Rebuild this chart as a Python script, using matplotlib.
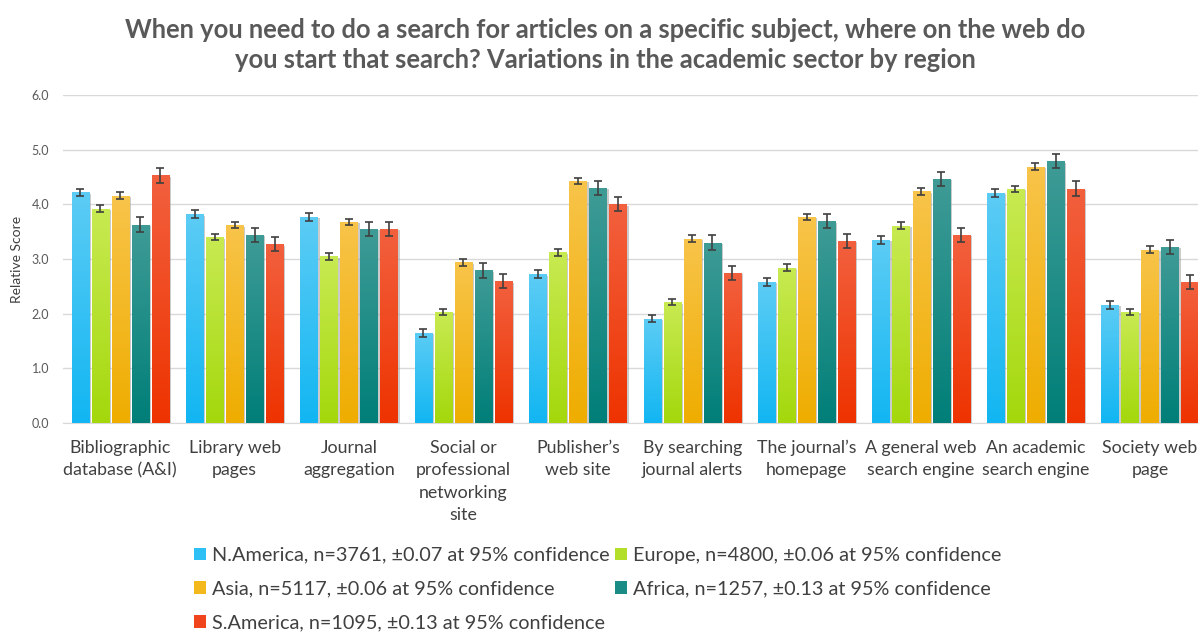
import numpy as np
import matplotlib
matplotlib.use('Agg')
import matplotlib.pyplot as plt
from matplotlib import patheffects as pe
from matplotlib.patches import Patch
from matplotlib.colors import LinearSegmentedColormap

plt.rcParams['font.family'] = ['Lato', 'DejaVu Sans']

# ---------------- data ----------------
categorias = ['Bibliographic\ndatabase (A&I)', 'Library web\npages', 'Journal\naggregation',
              'Social or\nprofessional\nnetworking\nsite', 'Publisher\u2019s\nweb site',
              'By searching\njournal alerts', 'The journal\u2019s\nhomepage',
              'A general web\nsearch engine', 'An academic\nsearch engine', 'Society web\npage']

regioes = ['N.America, n=3761, \u00b10.07 at 95% confidence',
           'Europe, n=4800, \u00b10.06 at 95% confidence',
           'Asia, n=5117, \u00b10.06 at 95% confidence',
           'Africa, n=1257, \u00b10.13 at 95% confidence',
           'S.America, n=1095, \u00b10.13 at 95% confidence']

n_america = [4.22, 3.82, 3.77, 1.65, 2.72, 1.91, 2.58, 3.35, 4.21, 2.16]
europa    = [3.92, 3.40, 3.05, 2.03, 3.12, 2.21, 2.84, 3.61, 4.28, 2.03]
asia      = [4.16, 3.62, 3.68, 2.94, 4.43, 3.37, 3.77, 4.24, 4.69, 3.17]
africa    = [3.63, 3.44, 3.55, 2.79, 4.30, 3.30, 3.69, 4.47, 4.79, 3.22]
s_america = [4.53, 3.27, 3.55, 2.59, 4.00, 2.75, 3.33, 3.44, 4.29, 2.58]

erros = [0.07, 0.06, 0.06, 0.13, 0.13]

series = [n_america, europa, asia, africa, s_america]

# cores (topo claro, base saturada)
cores_topo = ['#5cccf5', '#c8ea52', '#f8c44a', '#3f9b96', '#f2603e']
cores_base = ['#12b6f2', '#a4d80c', '#efad00', '#007f78', '#ee3300']
cores_legenda = ['#2ebff4', '#b3df2a', '#f3b81c', '#1a8b85', '#f0441c']

# ---------------- figura ----------------
fig = plt.figure(figsize=(11.98, 6.34), dpi=100)
ax = fig.add_axes([0.0526, 0.333, 0.955, 0.517])

x = np.arange(len(categorias))
largura = 0.15
passo = 0.175

for i, valores in enumerate(series):
    pos = x + (i - 2) * passo
    barras = ax.bar(pos, valores, width=largura, color=cores_base[i], zorder=2,
                    path_effects=[pe.SimplePatchShadow(offset=(1.5, -1), shadow_rgbFace='#999999', alpha=0.5),
                                  pe.Normal()])
    cmap = LinearSegmentedColormap.from_list('g%d' % i, [cores_base[i], cores_topo[i]])
    grad = np.linspace(0, 1, 100).reshape(-1, 1)
    for b in barras:
        x0 = b.get_x()
        h = b.get_height()
        im = ax.imshow(grad, cmap=cmap, origin='lower', aspect='auto',
                       extent=(x0, x0 + b.get_width(), 0, h), zorder=3)
        im.set_clip_path(b)
    ax.errorbar(pos, valores, yerr=erros[i], fmt='none', ecolor='#404040',
                elinewidth=1.2, capsize=3, capthick=1.2, zorder=4)

ax.set_xlim(-0.5, len(categorias) - 0.5)
ax.set_ylim(0, 6)
ax.set_yticks(np.arange(0, 6.1, 1))
ax.set_yticklabels(['%.1f' % v for v in np.arange(0, 6.1, 1)], fontsize=9, color='#595959')
ax.yaxis.grid(True, color='#d9d9d9', linewidth=1, zorder=0)
ax.set_axisbelow(True)
ax.tick_params(axis='y', length=0, pad=10)
ax.tick_params(axis='x', length=0, pad=12)
ax.set_xticks(x)
ax.set_xticklabels(categorias, fontsize=12.8, color='#404040', linespacing=1.5, va='top')
for s in ['top', 'right', 'left']:
    ax.spines[s].set_visible(False)
ax.spines['bottom'].set_color('#d9d9d9')
ax.set_ylabel('Relative Score', fontsize=10, color='#404040', labelpad=6)

fig.text(0.505, 0.972, 'When you need to do a search for articles on a specific subject, where on the web do\n'
         'you start that search? Variations in the academic sector by region',
         ha='center', va='top', fontsize=18.4, fontweight='bold', color='#595959', linespacing=1.3)

# legenda (ordem por linhas)
handles = [Patch(facecolor=cores_legenda[i], label=regioes[i]) for i in range(5)]
ordem = [0, 2, 4, 1, 3]
fig.legend([handles[k] for k in ordem], [regioes[k] for k in ordem], ncol=2,
           loc='upper left', bbox_to_anchor=(0.155, 0.15), frameon=False,
           fontsize=14.3, handlelength=0.6, handleheight=0.6, handletextpad=0.3,
           columnspacing=0.3, labelspacing=0.85, labelcolor='#404040', borderaxespad=0)

fig.savefig('out.png', dpi=100)
